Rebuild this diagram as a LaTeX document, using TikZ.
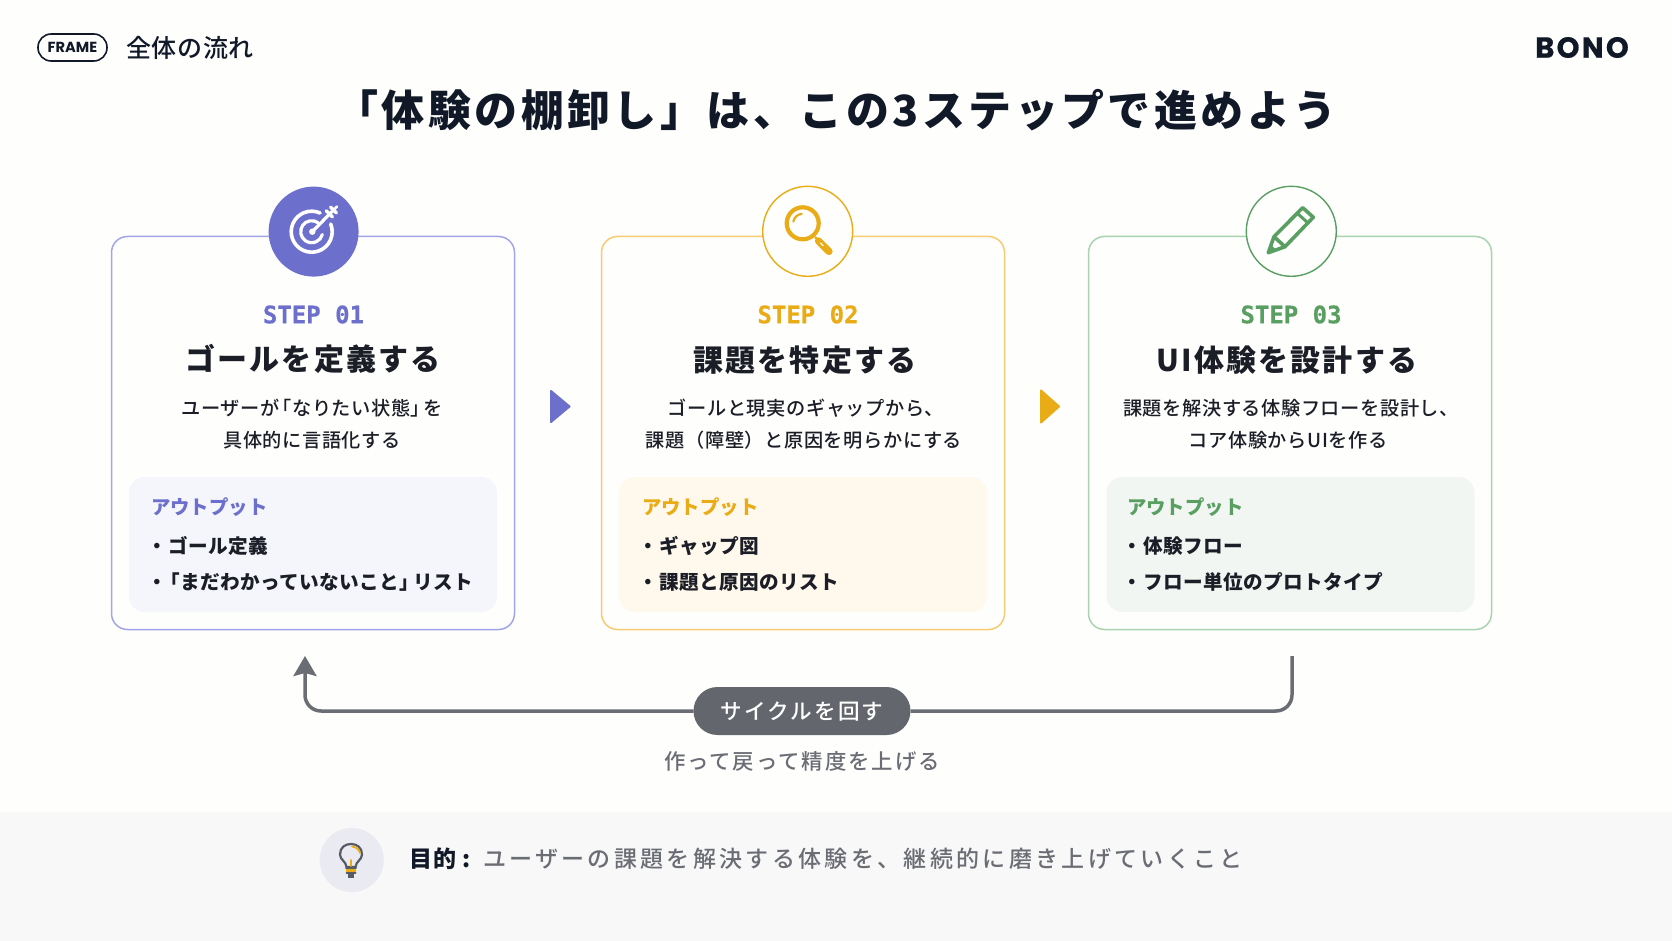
\documentclass[tikz,border=0pt]{standalone}
\usepackage{fontspec}
\usetikzlibrary{arrows.meta}
\setmainfont{Noto Sans CJK JP}
\newfontfamily\jpm{Noto Sans CJK JP Medium}
\newfontfamily\latf{Poppins}
\newfontfamily\monof{DejaVu Sans Mono}
\definecolor{navy}{HTML}{111827}
\definecolor{ink}{HTML}{1B1E26}
\definecolor{gr}{HTML}{6A6D74}
\definecolor{gpill}{HTML}{63666C}
\definecolor{pu}{HTML}{6C70CC}
\definecolor{puL}{HTML}{A2A6E8}
\definecolor{puB}{HTML}{F5F5FC}
\definecolor{am}{HTML}{E9AC17}
\definecolor{amL}{HTML}{F8CB70}
\definecolor{amB}{HTML}{FFF8EC}
\definecolor{gn}{HTML}{5A9F62}
\definecolor{gnL}{HTML}{A9D3AF}
\definecolor{gnB}{HTML}{F1F6F2}
\definecolor{band}{HTML}{F8F8F8}
\definecolor{paper}{HTML}{FEFEFD}
\definecolor{bulbc}{HTML}{E9EAF2}
\definecolor{bulbl}{HTML}{565B66}
\newcommand{\Tx}[1]{\vphantom{体}#1}
\newcommand{\ob}{\kern-.35em}
\tikzset{
  tx/.style={inner sep=0pt,outer sep=0pt,align=center},
  cardbox/.style={rounded corners=8pt,line width=.75pt,minimum width=201.5pt,minimum height=196.5pt,inner sep=0pt},
  innerbox/.style={rounded corners=8pt,minimum width=184pt,minimum height=67.5pt,inner sep=0pt},
  iconring/.style={circle,minimum size=45pt,inner sep=0pt,line width=.7pt},
  stephead/.style={tx,font=\monof\bfseries\fontsize{12}{14}\selectfont\addfontfeature{FakeBold=0.6}},
  steptitle/.style={tx,text=ink,font=\bfseries\fontsize{15}{18}\selectfont\addfontfeature{LetterSpace=7}},
  stepdesc/.style={tx,text=ink,font=\jpm\fontsize{9.6}{12}\selectfont\addfontfeature{LetterSpace=3}},
  outhead/.style={tx,anchor=west,font=\bfseries\fontsize{9.7}{12}\selectfont\addfontfeature{LetterSpace=0}},
  outitem/.style={tx,anchor=west,text=ink,font=\bfseries\fontsize{9.8}{12}\selectfont\addfontfeature{LetterSpace=2}},
  nexttri/.style={line width=1pt,line join=round},
  cycle/.style={draw=gr,line width=1.75pt,rounded corners=8pt}
}
\begin{document}
\begin{tikzpicture}[x=.5pt,y=-.5pt]
\useasboundingbox (0,0) rectangle (1672,941);
\fill[paper] (0,0) rectangle (1672,941);
\fill[band] (0,812) rectangle (1672,941);
% header
\node[tx,draw=navy,line width=.8pt,rounded corners=6.6pt,minimum width=34.5pt,minimum height=13.5pt,text=navy,font=\latf\bfseries\fontsize{7.3}{9}\selectfont] (frame) at (72.5,47.5) {FRAME};
\node[tx,anchor=west,text=navy,font=\jpm\fontsize{12.5}{15}\selectfont\addfontfeature{LetterSpace=3}] (section) at (126,47.5) {\Tx{全体の流れ}};
\node[tx,text=navy,font=\latf\bfseries\fontsize{14.5}{16}\selectfont\addfontfeature{LetterSpace=8,FakeBold=0.6}] (logo) at (1582,47.5) {BONO};
\node[tx,text=navy,font=\bfseries\fontsize{21.5}{24}\selectfont\addfontfeature{LetterSpace=8}] (title) at (836,110) {\Tx{「体験の棚卸し」は、この3ステップで進めよう}};
% cards
\node[cardbox,draw=puL,fill=paper] (card1) at (313,433) {};
\node[cardbox,draw=amL,fill=paper] (card2) at (803,433) {};
\node[cardbox,draw=gnL,fill=paper] (card3) at (1290,433) {};
\node[innerbox,fill=puB] (out1) at (313,544.5) {};
\node[innerbox,fill=amB] (out2) at (803,544.5) {};
\node[innerbox,fill=gnB] (out3) at (1290.5,544.5) {};
\node[iconring,fill=pu] (ic1) at (313.6,231.6) {};
\node[iconring,draw=am,fill=paper] (ic2) at (807.7,231.3) {};
\node[iconring,draw=gn,fill=paper] (ic3) at (1291.3,231.3) {};
% target icon
\begin{scope}[white,line cap=round,line width=1.8pt]
\draw (311.7,231.7) ++(-66:20.5) arc[start angle=-66,end angle=-382,radius=20.5];
\draw[line width=1.6pt] (311.7,231.7) ++(-55:11) arc[start angle=-55,end angle=-345,radius=11];
\fill (312.3,231.7) circle[radius=3.2];
\draw[line width=1.6pt] (312.3,231.7) -- (334,209.5);
\draw[line width=1.7pt] (326.3,210.8) -- (332.5,217);
\draw[line width=1.7pt] (330.5,207) -- (336.5,213);
\draw[line width=1.4pt] (334,209.5) -- (337,206.5);
\end{scope}
% magnifier icon
\begin{scope}[am]
\draw[line width=2.1pt] (802.7,223.3) circle[radius=16];
\draw[line width=1.1pt,line cap=round] (802.7,223.3) ++(190:9.5) arc[start angle=190,end angle=264,radius=9.5];
\draw[line width=1.2pt] (815,237) -- (819,241);
\draw[line width=3.6pt,line cap=round] (818.5,241) -- (829,251.5);
\draw[paper,line width=.7pt,line cap=round] (820.5,243) -- (823,245.5);
\end{scope}
% pencil icon
\begin{scope}[gn,line width=1.8pt,line join=round]
\draw (1268.3,252.7) -- (1274,236.7) -- (1302.7,207.7) -- (1313.3,217.3) -- (1285,246.7) -- cycle;
\draw (1274,236.7) -- (1285,246.7);
\draw[line width=1.5pt] (1297,213) -- (1308,223);
\fill (1268.3,252.7) -- (1271,245) -- (1276.3,249.8) -- cycle;
\end{scope}
% step labels
\node[stephead,text=pu] (s1) at (313.5,314.5) {STEP 01};
\node[stephead,text=am] (s2) at (808,314.5) {STEP 02};
\node[stephead,text=gn] (s3) at (1291,314.5) {STEP 03};
\node[steptitle] (t1) at (313,359) {\Tx{ゴールを定義する}};
\node[steptitle] (t2) at (805,360) {\Tx{課題を特定する}};
\node[steptitle] (t3) at (1287,360) {\Tx{UI体験を設計する}};
\node[stepdesc] (d1a) at (312,408) {\Tx{ユーザーが\ob 「なりたい状態」\ob を}};
\node[stepdesc] (d1b) at (312,440) {\Tx{具体的に言語化する}};
\node[stepdesc] (d2a) at (806,408) {\Tx{ゴールと現実のギャップから、}};
\node[stepdesc] (d2b) at (804,440) {\Tx{課題（障壁）と原因を明らかにする}};
\node[stepdesc] (d3a) at (1291,408) {\Tx{課題を解決する体験フローを設計し、}};
\node[stepdesc] (d3b) at (1288,440) {\Tx{コア体験からUIを作る}};
% outputs
\node[outhead,text=pu] (oh1) at (151,507.5) {\Tx{アウトプット}};
\node[outhead,text=am] (oh2) at (642,507.5) {\Tx{アウトプット}};
\node[outhead,text=gn] (oh3) at (1127,507.5) {\Tx{アウトプット}};
\node[outitem] (i1a) at (147,546) {\Tx{・\kern.1em ゴール定義}};
\node[outitem] (i1b) at (147,582) {\Tx{・\kern-.3em 「まだわかっていないこと」\kern-.3em リスト}};
\node[outitem] (i2a) at (638,546) {\Tx{・\kern.1em ギャップ図}};
\node[outitem] (i2b) at (638,582) {\Tx{・\kern.1em 課題と原因のリスト}};
\node[outitem] (i3a) at (1122,546) {\Tx{・\kern.1em 体験フロー}};
\node[outitem] (i3b) at (1122,582) {\Tx{・\kern.1em フロー単位のプロトタイプ}};
% between-step triangles
\filldraw[nexttri,draw=pu,fill=pu] (551,391) -- (569.5,406.5) -- (551,422) -- cycle;
\filldraw[nexttri,draw=am,fill=am] (1041,390.5) -- (1059,406.5) -- (1041,422.5) -- cycle;
% cycle
\node[tx,fill=gpill,rounded corners=12pt,minimum width=108.5pt,minimum height=24pt,text=white,font=\jpm\fontsize{10.8}{13}\selectfont\addfontfeature{LetterSpace=10}] (pill) at (802,711) {\Tx{サイクルを回す}};
\coordinate (loopin) at (305,656);
\coordinate (loopout) at (1292,656);
\draw[cycle,-{Stealth[length=10pt,width=11.5pt,inset=1.5pt]}] (pill.west) -| (loopin);
\draw[cycle] (pill.east) -| (loopout);
\node[tx,text=gr,font=\jpm\fontsize{10.7}{13}\selectfont\addfontfeature{LetterSpace=9}] (cycnote) at (802,761.5) {\Tx{作って戻って精度を上げる}};
% purpose
\node[circle,fill=bulbc,minimum size=32pt,inner sep=0pt] (bulbbg) at (351.7,860) {};
\begin{scope}[line join=round,line cap=round]
\draw[line width=1.1pt,draw=bulbl] (346.5,867) .. controls (346,861) and (340,860) .. (340,854.5) .. controls (340,847.5) and (345,844) .. (351,844) .. controls (357,844) and (362,847.5) .. (362,854.5) .. controls (362,860) and (356,861) .. (355.5,867) -- cycle;
\draw[line width=.9pt,draw=am] (352,846.5) .. controls (356.5,847) and (359.5,850) .. (360,853);
\draw[line width=.8pt,draw=am] (351,866) -- (351,860);
\fill[am] (346,867) rectangle (356,873);
\draw[line width=1pt,draw=bulbl] (346,868) -- (356,868) (346.5,873) -- (355.5,873);
\fill[bulbl] (348,873) rectangle (354,877.5);
\end{scope}
\node[tx,anchor=west,text=navy,font=\bfseries\fontsize{11.5}{14}\selectfont\addfontfeature{LetterSpace=5}] (goalkey) at (409,859) {\Tx{目的 :}};
\node[tx,anchor=west,text=gr,font=\jpm\fontsize{11.5}{14}\selectfont\addfontfeature{LetterSpace=14.5}] (goaltext) at (483,859) {\Tx{ユーザーの課題を解決する体験を、継続的に磨き上げていくこと}};
\end{tikzpicture}
\end{document}
